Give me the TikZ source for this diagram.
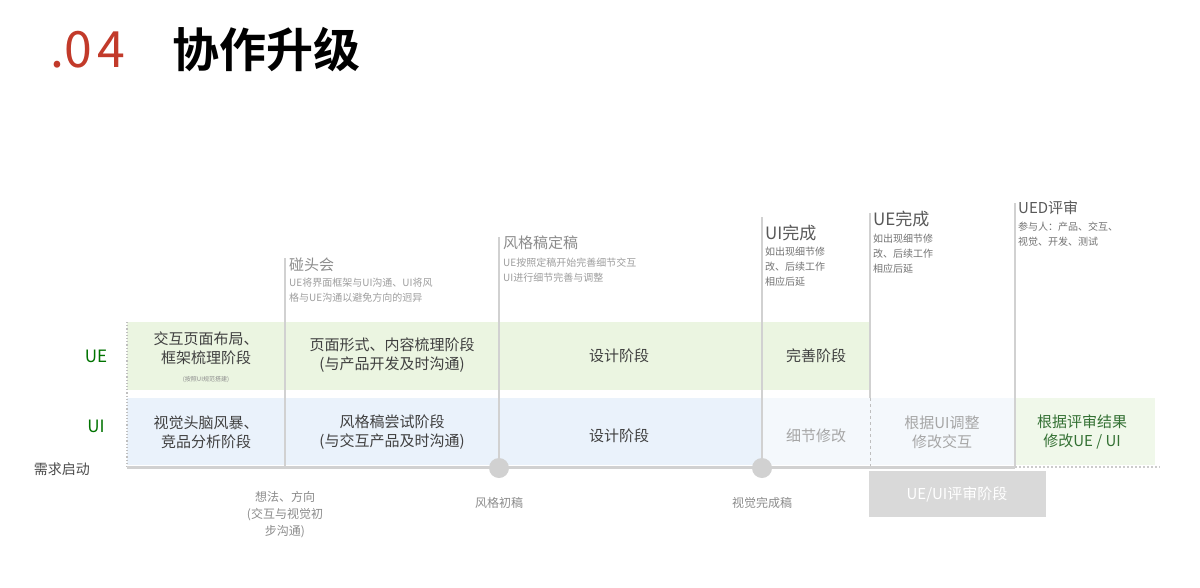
\documentclass[tikz,border=0pt]{standalone}
\usepackage{fontspec}
\setmainfont{Noto Sans CJK SC}
\newfontfamily\cjkb{Noto Sans CJK SC Bold}
\definecolor{uegreen}{HTML}{EBF5E1}
\definecolor{uiblue}{HTML}{EAF2FB}
\definecolor{uilight}{HTML}{F4F8FC}
\definecolor{endgreen}{HTML}{F0F8EA}
\definecolor{titred}{HTML}{C23A2A}
\begin{document}
\begin{tikzpicture}[x=1pt,y=-1pt,
  band/.style={font=\fontsize{15}{19}\selectfont,text=black!75,align=center},
  hd/.style={font=\fontsize{15}{18}\selectfont,text=black!45,anchor=north west,inner sep=0pt},
  sub/.style={font=\fontsize{10}{15}\selectfont,text=black!38,anchor=north west,inner sep=0pt,align=left},
  vl/.style={draw=black!18,line width=2pt},
  lab/.style={font=\fontsize{12}{17}\selectfont,text=black!45,align=center}]
\useasboundingbox (0,0) rectangle (1200,587);
\fill[white] (0,0) rectangle (1200,587);
% title
\node[anchor=west,inner sep=0pt,text=titred,font=\fontsize{50}{50}\selectfont] (t1) at (50,50) {.0\kern6pt4};
\node[anchor=west,inner sep=0pt,font=\cjkb\fontsize{47}{47}\selectfont] (t2) at (172,50) {协作升级};
% bands
\fill[uegreen] (127,322) rectangle (870,390);
\fill[uiblue] (127,398) rectangle (762,465);
\fill[uilight] (762,398) rectangle (1015,465);
\fill[endgreen] (1015,398) rectangle (1155,465);
% vertical lines
\draw[vl] (285,258) -- (285,467);
\draw[vl] (499,237) -- (499,467);
\draw[vl] (762,217) -- (762,467);
\draw[vl] (870,213) -- (870,398);
\draw[black!25,line width=1pt,dashed] (870,398) -- (870,467);
\draw[vl] (1015,203) -- (1015,467);
\draw[black!25,line width=1.2pt,dotted] (127,322) -- (127,467);
% timeline
\draw[black!18,line width=3pt] (127,467) -- (1015,467);
\draw[black!20,line width=2pt,dotted] (1015,467) -- (1160,467);
\fill[black!18] (499,468) circle (10);
\fill[black!18] (762,468) circle (10);
\node[fill=black!15,text=white,minimum width=177,minimum height=46,inner sep=0,font=\fontsize{15}{18}\selectfont] (rev) at (957,494) {UE/UI评审阶段};
% row labels
\node[text=green!45!black,font=\fontsize{17}{20}\selectfont] (ue) at (96,356) {UE};
\node[text=green!45!black,font=\fontsize{17}{20}\selectfont] (ui) at (96,426) {UI};
\node[text=black!70,font=\fontsize{14}{17}\selectfont] (start) at (62,469) {需求启动};
% UE band texts
\node[band] (a1) at (206,348) {交互页面布局、\\框架梳理阶段};
\node[font=\fontsize{6}{7}\selectfont,text=black!45] (a1s) at (206,380) {(按照UI规范搭建)};
\node[band] (a2) at (392,355) {页面形式、内容梳理阶段\\(与产品开发及时沟通)};
\node[band] (a3) at (619,356) {设计阶段};
\node[band] (a4) at (816,356) {完善阶段};
% UI band texts
\node[band] (b1) at (206,432) {视觉头脑风暴、\\竞品分析阶段};
\node[band] (b2) at (392,432) {风格稿尝试阶段\\(与交互产品及时沟通)};
\node[band] (b3) at (619,436) {设计阶段};
\node[band,text=black!35] (b4) at (816,436) {细节修改};
\node[band,text=black!35] (b5) at (942,432) {根据UI调整\\修改交互};
\node[band,text=green!30!black!80] (b6) at (1082,432) {根据评审结果\\修改UE / UI};
% headers
\node[hd] (h1) at (289,258) {碰头会};
\node[sub] (h1s) at (289,278) {UE将界面框架与UI沟通、UI将风\\格与UE沟通以避免方向的迥异};
\node[hd] (h2) at (503,236) {风格稿定稿};
\node[sub] (h2s) at (503,258) {UE按照定稿开始完善细节交互\\UI进行细节完善与调整};
\node[hd,text=black!65,font=\fontsize{17}{20}\selectfont] (h3) at (765,225) {UI完成};
\node[sub,text=black!55] (h3s) at (765,247) {如出现细节修\\改、后续工作\\相应后延};
\node[hd,text=black!65,font=\fontsize{17}{20}\selectfont] (h4) at (873,211) {UE完成};
\node[sub,text=black!55] (h4s) at (873,234) {如出现细节修\\改、后续工作\\相应后延};
\node[hd,text=black!65] (h5) at (1018,201) {UED评审};
\node[sub,text=black!55] (h5s) at (1018,222) {参与人：产品、交互、\\视觉、开发、测试};
% bottom labels
\node[lab] (c1) at (285,515) {想法、方向\\(交互与视觉初\\步沟通)};
\node[lab] (c2) at (499,503) {风格初稿};
\node[lab] (c3) at (762,503) {视觉完成稿};
\end{tikzpicture}
\end{document}
